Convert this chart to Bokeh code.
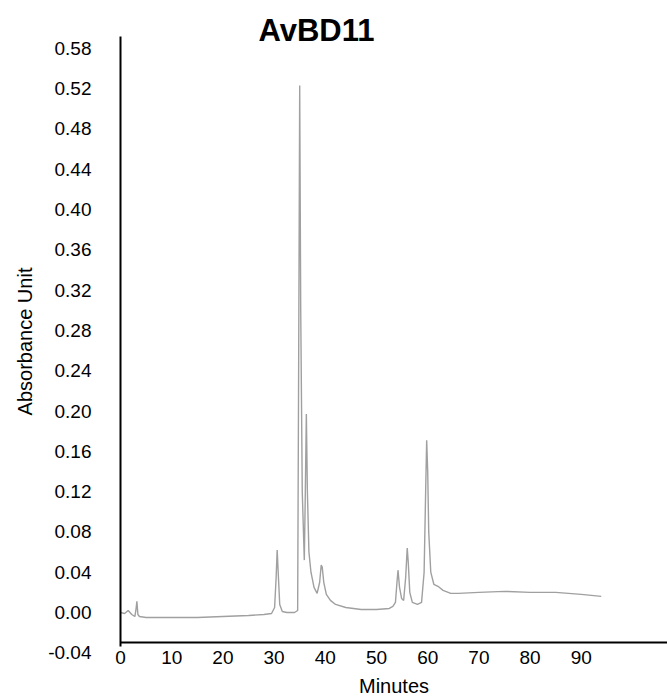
from bokeh.plotting import figure
from bokeh.models import Range1d, FixedTicker, Label, ColumnDataSource
from bokeh.embed import file_html
from bokeh.resources import INLINE

# Chromatogram of AvBD11
minutes = [0, 0.8, 1.5, 2.2, 2.8, 3.0, 3.2, 3.4, 3.7, 5, 10, 15, 20, 25, 28, 29.5,
           30.1, 30.4, 30.6, 30.8, 31.1, 31.6, 32.5, 34.0, 34.6, 34.8, 35.0, 35.2,
           35.5, 35.9, 36.1, 36.3, 36.5, 36.8, 37.2, 37.8, 38.4, 38.9, 39.2, 39.4,
           39.7, 40.2, 41.0, 42.0, 44.0, 47.0, 50.0, 52.5, 53.2, 53.7, 54.0, 54.2,
           54.5, 54.9, 55.3, 55.7, 56.0, 56.2, 56.5, 57.0, 58.0, 58.8, 59.3, 59.6,
           59.8, 60.0, 60.2, 60.6, 61.2, 62.0, 63.0, 64.5, 66, 70, 75, 80, 85, 90, 93.9]
absorbance = [0.000, -0.001, 0.002, -0.002, -0.004, 0.002, 0.011, -0.002, -0.004, -0.005,
              -0.005, -0.005, -0.004, -0.003, -0.002, -0.001,
              0.005, 0.035, 0.062, 0.040, 0.008, 0.001, 0.000, 0.000, 0.002, 0.250, 0.523, 0.300,
              0.120, 0.052, 0.120, 0.197, 0.120, 0.060, 0.040, 0.025, 0.019, 0.030, 0.047, 0.045,
              0.030, 0.018, 0.012, 0.008, 0.005, 0.003, 0.003, 0.004, 0.006, 0.010, 0.030, 0.042,
              0.025, 0.014, 0.012, 0.035, 0.064, 0.050, 0.020, 0.010, 0.008, 0.010, 0.040, 0.120,
              0.171, 0.140, 0.080, 0.040, 0.028, 0.026, 0.022, 0.019, 0.019, 0.020, 0.021, 0.020,
              0.020, 0.018, 0.016]

x_ticks = [0, 10, 20, 30, 40, 50, 60, 70, 80, 90]
y_ticks = [0.00, 0.04, 0.08, 0.12, 0.16, 0.20, 0.24, 0.28, 0.32, 0.36, 0.40, 0.44, 0.48, 0.52, 0.56]
y_tick_labels = ["0.00", "0.04", "0.08", "0.12", "0.16", "0.20", "0.24", "0.28", "0.32",
                 "0.36", "0.40", "0.44", "0.48", "0.52", "0.58"]
bottom_tick_value = -0.04
bottom_tick_label = "-0.04"
title_text = "AvBD11"
x_title = "Minutes"
y_title = "Absorbance Unit"

FONT = "Liberation Sans"
W, H = 667, 698
AX_X, ZERO_Y = 120, 612          # pixel of x=0 and of y=0
PX_X, PX_Y = 5.12, 1007.5        # pixels per unit
X_LO, X_HI = -AX_X / PX_X, (W - AX_X) / PX_X
Y_LO, Y_HI = (ZERO_Y - H) / PX_Y, ZERO_Y / PX_Y
Y_AXIS_TOP = (ZERO_Y - 36) / PX_Y
X_AXIS_AT = (ZERO_Y - 642) / PX_Y

p = figure(width=W, height=H, output_backend="svg", toolbar_location=None,
           x_range=Range1d(X_LO, X_HI), y_range=Range1d(Y_LO, Y_HI),
           min_border=0)
p.outline_line_color = None
p.xgrid.grid_line_color = None
p.ygrid.grid_line_color = None
p.background_fill_color = "white"
p.border_fill_color = "white"

src = ColumnDataSource(dict(x=minutes, y=absorbance))
p.line("x", "y", source=src, line_color="#a0a0a0", line_width=1.4)

for ax in (p.xaxis[0], p.yaxis[0]):
    ax.axis_line_color = "black"
    ax.axis_line_width = 2
    ax.major_tick_line_color = None
    ax.minor_tick_line_color = None
    ax.major_tick_out = 0
    ax.major_tick_in = 0
    ax.major_label_text_font = FONT
    ax.major_label_text_font_size = "19px"
    ax.major_label_text_color = "black"
    ax.axis_label_text_font = FONT
    ax.axis_label_text_font_size = "20px"
    ax.axis_label_text_font_style = "normal"
    ax.axis_label_text_color = "black"

xa, ya = p.xaxis[0], p.yaxis[0]
xa.fixed_location = X_AXIS_AT
xa.bounds = (0, X_HI)
xa.ticker = FixedTicker(ticks=x_ticks)
xa.major_label_standoff = 8
xa.axis_label = x_title
xa.axis_label_standoff = 8

ya.fixed_location = 0
ya.bounds = ((ZERO_Y - 646) / PX_Y, Y_AXIS_TOP)
ya.ticker = FixedTicker(ticks=y_ticks)
ya.major_label_overrides = {v: s for v, s in zip(y_ticks, y_tick_labels)}
ya.major_label_standoff = 29
ya.axis_label = y_title
ya.axis_label_standoff = 16

p.add_layout(Label(x=0, y=bottom_tick_value, x_offset=-29, text=bottom_tick_label,
                   text_font=FONT, text_font_size="19px", text_align="right",
                   text_baseline="middle", text_color="black"))
p.add_layout(Label(x=(316 - AX_X) / PX_X, y=(ZERO_Y - 30) / PX_Y, text=title_text,
                   text_font=FONT, text_font_size="31px", text_font_style="bold",
                   text_align="center", text_baseline="middle", text_color="black"))

open("out.html", "w").write(file_html(p, INLINE))
